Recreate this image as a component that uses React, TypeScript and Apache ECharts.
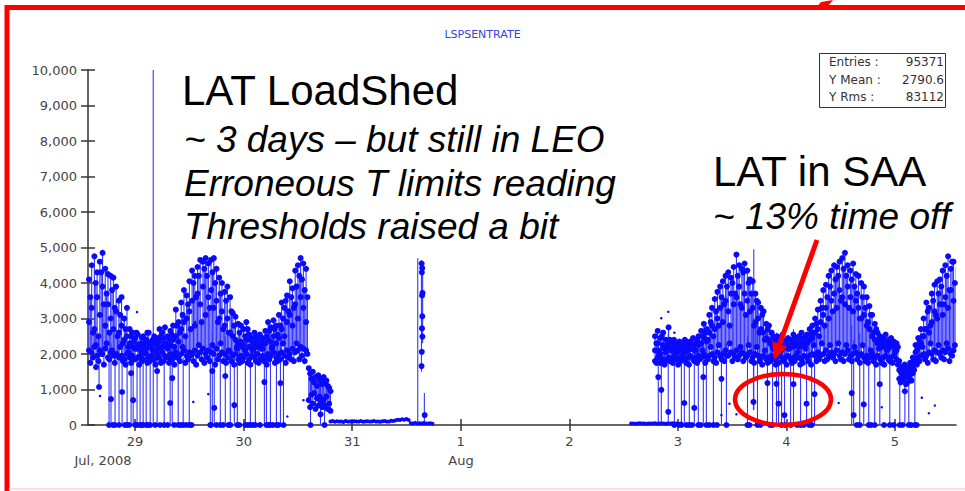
import React, { useEffect, useRef } from 'react';
import * as echarts from 'echarts';

// Time axis: days since Jul 28 2008 00:00
const X_MIN = 0.566;
const X_MAX = 8.563;
const dayTicks = [1, 2, 3, 4, 5, 6, 7, 8];
const dayLabels = ['29', '30', '31', '1', '2', '3', '4', '5'];
const Y_MAX = 10000;
const Y_STEP = 1000;

// Regular telemetry cadence (days) for the two in-orbit stretches;
// the low / spread readings fall half a step after each sample.
const STEP = 0.025;

// Jul 28 13:48 – Jul 30 14:00
const runAStart = 0.575;
const runABase = [2100, 2050, 2200, 1950, 2100, 2000, 2150, 1900, 2050, 1950, 2000, 1900, 1950, 1850, 2000, 1900, 1950, 1850, 1900, 1950, 1850, 2000, 1900, 1950, 1850, 2000, 1900, 2050, 1950, 1900, 2000, 1950, 2050, 1900, 2000, 2100, 1950, 2050, 2000, 2100, 1950, 2050, 2150, 2000, 2100, 2050, 2000, 2150, 1950, 2050, 2000, 1900, 2050, 1950, 2000, 1850, 1950, 1900, 2000, 1850, 1950, 1900, 2000, 1850, 1950, 1900, 2000, 1950, 2050, 1900, 2000, 2050, 1950, 2100, 2000, 2150, 2050, 2100, 2200, 2150, 2100];
const runAMid = [2900, 3300, 2700, 3600, 3100, 3900, 2800, 3400, 3000, 2700, 3200, 2600, 2800, 2400, 2500, 2300, 2200, 2150, 2250, 2100, 2200, 2150, 2300, 2200, 2100, 2250, 2350, 2200, 2300, 2150, 2250, 2400, 2500, 2350, 2700, 2900, 3000, 3200, 3500, 2800, 3700, 3400, 3900, 3100, 3600, 3800, 3300, 3500, 3000, 3200, 2800, 3000, 2600, 2500, 2400, 2300, 2350, 2250, 2400, 2200, 2150, 2300, 2200, 2250, 2150, 2300, 2400, 2350, 2500, 2300, 2450, 2700, 2500, 2900, 3100, 2800, 3400, 3000, 3600, 3300, 2900];
const runATop = [4100, 4500, 4750, 4300, 4600, 4850, 4400, 4250, 4200, 4150, 3900, 3500, 3600, 3000, 3300, 2700, 2600, 2450, 2550, 2300, 2500, 2400, 2600, 2350, 2500, 2450, 2700, 2600, 2750, 2500, 2650, 2800, 3250, 2900, 3450, 3800, 3650, 4050, 4350, 4200, 4450, 4650, 4600, 4700, 4550, 4650, 4700, 4400, 4150, 4000, 3750, 3900, 3600, 3150, 3050, 2850, 2800, 2700, 2900, 2550, 2450, 2600, 2400, 2550, 2450, 2650, 2900, 2750, 2950, 2800, 3100, 3450, 3300, 3650, 4050, 3850, 4350, 4500, 4700, 4550, 4400];
const runALow = [1750, 1900, 2250, 1800, 2000, 1700, 2300, 1850, 2100, 1750, 1950, 2200, 1800, 1700, 2050, 1750, 1850, 2150, 1700, 1800, 2050, 1750, 1800, 2100, 1700, 1900, 1750, 1800, 2200, 1750, 1850, 1700, 1900, 1800, 2200, 1750, 1850, 1950, 1800, 1700, 2250, 1850, 1750, 1900, 1800, 2250, 1700, 1850, 2300, 1800, 1750, 2100, 1800, 1700, 2150, 1750, 1800, 2100, 1750, 1700, 2100, 1800, 1750, 2150, 1800, 1700, 1850, 2150, 1750, 1800, 1850, 2300, 1750, 1900, 1850, 1800, 2300, 1850, 1950, 1800, 2000];
const runASpread = [3600, 2600, 4000, 2500, 4300, 3400, 3700, 2600, 3800, 3300, 2500, 3100, 2300, 2700, 2200, 2500, 2350, 2600, 2150, 2450, 2300, 2600, 2200, 2400, 2300, 2150, 2500, 2450, 2250, 2400, 2550, 2200, 2800, 2600, 3100, 2500, 3400, 2700, 4000, 3600, 4200, 2900, 4400, 4200, 3300, 4300, 4000, 2900, 3700, 2700, 3500, 2600, 3200, 2800, 2200, 2600, 2200, 2500, 2700, 2400, 2300, 2500, 2250, 2400, 2300, 2500, 2650, 2200, 2700, 2550, 2800, 3000, 3500, 3200, 3600, 3300, 3900, 4200, 4100, 3800, 3600];

// Aug 2 18:58 – Aug 5 13:34
const runFStart = 5.79;
const runFBase = [1800, 1900, 1750, 1850, 1800, 1900, 1850, 1950, 1850, 1900, 1950, 1850, 1900, 1950, 1850, 1900, 1950, 1900, 2000, 1900, 1950, 2000, 1900, 2050, 1950, 2000, 2100, 1950, 2050, 2000, 2100, 1950, 2050, 2000, 1950, 2050, 1900, 2000, 1950, 1900, 1950, 1850, 1900, 1950, 1850, 1900, 1950, 1850, 1900, 1950, 1850, 1900, 1950, 1900, 1850, 1950, 1900, 1950, 2000, 1950, 2050, 1950, 2000, 2100, 1950, 2050, 2000, 2100, 1950, 2050, 2000, 2100, 1950, 2000, 2050, 1950, 2000, 1900, 1950, 1900, 2000, 1900, 1950, 1850, 1900, 1950, 1850, 1900, 1950, 1850, 1300, 1250, 1350, 1200, 1300, 1450, 1850, 1900, 1950, 2000, 1950, 2050, 2000, 2100, 2050, 2000, 2100, 2050, 2150, 2000, 2100, 2050];
const runFMid = [2100, 2300, 2000, 2250, 2050, 2200, 2100, 2150, 2050, 2100, 2150, 2050, 2100, 2150, 2200, 2100, 2250, 2300, 2450, 2350, 2600, 2800, 2700, 3000, 3300, 2900, 3500, 3200, 3700, 3400, 3600, 3900, 3300, 3700, 3500, 3200, 3300, 2900, 3000, 2700, 2600, 2450, 2400, 2250, 2200, 2300, 2150, 2250, 2200, 2150, 2250, 2200, 2300, 2200, 2250, 2200, 2300, 2400, 2450, 2600, 2700, 2900, 3100, 3300, 3000, 3500, 3700, 3300, 3800, 3600, 3400, 3900, 3600, 3200, 3500, 3300, 3000, 3100, 2800, 2700, 2500, 2400, 2300, 2250, 2200, 2300, 2150, 2250, 2200, 2100, 1550, 1450, 1500, 1400, 1500, 1650, 2050, 2200, 2300, 2500, 2700, 2600, 2900, 3200, 3000, 3400, 3100, 3600, 3300, 3800, 3500, 3700];
const runFTop = [2500, 2650, 2450, 2600, 2400, 2750, 2350, 2400, 2250, 2350, 2300, 2400, 2250, 2350, 2450, 2300, 2500, 2650, 2850, 2700, 3100, 3300, 3550, 3750, 3900, 4050, 4200, 4300, 4150, 4450, 4800, 4500, 4400, 4550, 4350, 4100, 4050, 3700, 3450, 3300, 3200, 2850, 2800, 2600, 2450, 2500, 2400, 2550, 2350, 2450, 2400, 2550, 2450, 2500, 2600, 2450, 2550, 2700, 2800, 3000, 3250, 3500, 3800, 3950, 4200, 4350, 4500, 4450, 4600, 4700, 4850, 4500, 4350, 4550, 4250, 4200, 4000, 3900, 3600, 3350, 3100, 2850, 2600, 2500, 2450, 2550, 2400, 2450, 2350, 2300, 1800, 1650, 1700, 1600, 1750, 1900, 2250, 2450, 2700, 3000, 3450, 3300, 3700, 3950, 4050, 4100, 4350, 4500, 4750, 4400, 4600, 4450];
const runFLow = [1750, 2000, 1850, 1700, 2200, 1800, 1750, 2100, 1700, 1800, 2050, 1750, 1700, 2150, 1800, 1750, 1850, 2100, 1750, 1850, 2200, 1800, 1750, 2250, 1850, 1800, 1950, 2300, 1800, 1900, 1850, 2200, 1800, 1900, 2250, 1800, 1750, 2200, 1800, 1700, 2100, 1750, 1800, 2150, 1700, 1750, 2100, 1800, 1700, 2150, 1750, 1800, 2050, 1700, 1750, 2150, 1800, 1700, 2250, 1800, 1850, 2300, 1800, 1850, 2250, 1900, 1800, 2300, 1850, 1800, 2250, 1850, 1800, 2200, 1850, 1750, 2250, 1800, 1750, 2100, 1800, 1700, 2150, 1750, 1700, 2100, 1800, 1750, 2050, 1700, 1200, 1350, 1150, 1400, 1250, 1550, 1700, 1800, 2200, 1850, 1750, 2300, 1850, 1800, 2250, 1900, 1850, 2300, 1800, 1950, 2250, 1850];
const runFSpread = [2300, 2100, 2500, 2150, 2250, 2400, 2200, 2300, 2150, 2250, 2200, 2350, 2150, 2250, 2100, 2400, 2300, 2500, 2600, 2400, 2900, 2500, 3200, 2800, 3600, 3400, 3900, 2800, 4000, 3700, 4200, 3400, 4300, 3100, 4000, 3700, 2800, 3500, 2600, 3100, 2400, 2700, 2300, 2500, 2350, 2200, 2450, 2300, 2400, 2250, 2350, 2450, 2250, 2400, 2300, 2500, 2350, 2550, 2600, 2850, 2500, 3300, 2800, 3600, 3900, 3200, 4100, 4200, 3500, 4400, 4200, 3300, 4100, 3900, 3700, 3000, 3600, 3300, 2900, 3100, 2600, 2700, 2400, 2300, 2350, 2200, 2300, 2250, 2150, 2200, 1500, 1550, 1400, 1650, 1450, 1800, 2100, 2350, 2500, 2700, 3200, 2800, 3500, 3100, 3700, 3900, 3400, 4200, 3800, 4600, 4000, 4200];

// Jul 30 14:24 – 19:12, reduced rate after the load shed (upper / lower readings)
const shedStart = 2.6;
const shedStep = 0.0125;
const shedUpper = [1600, 1450, 1300, 1500, 1200, 1350, 1100, 1400, 1250, 1300, 1150, 1350, 1200, 1250, 1100, 1050, 950];
const shedLower = [700, 500, 850, 600, 900, 450, 750, 550, 800, 650, 500, 700, 550, 800, 450, 600, 400];

// Near-zero rate while the LAT is off
const offStep = 0.02;
const offAStart = 2.8;
const offA = [100, 110, 90, 105, 95, 100, 85, 110, 95, 100, 90, 105, 100, 95, 110, 90, 100, 105, 95, 100, 110, 95, 100, 90, 105, 110, 95, 100, 120, 110, 130, 150, 140, 160, 150, 170, 140];
const offBStart = 3.54;
const offB = [50, 40, 60, 45, 50, 40, 55, 45, 40, 50, 35];
const offCStart = 5.57;
const offC = [40, 45, 35, 40, 50, 40, 45, 35, 40, 45, 40, 50, 35, 40, 45, 40, 35, 45, 40, 50, 40, 45, 35, 40];

// Brief turn-on at Jul 31 15:25
const burstPoints = [[3.64, 4550], [3.645, 4420], [3.642, 4300], [3.648, 3720], [3.644, 3650], [3.646, 3060], [3.643, 2720], [3.647, 2490], [3.641, 2060], [3.639, 1660], [3.668, 280]];
const burstBars = [[3.638, 1500, 4650], [3.649, 2300, 4500], [3.665, 0, 900]];

// Dropouts: [day, value, low, high]
const dropouts = [
  [0.64, 1630, 1630, 2600], [0.668, 1070, 1070, 2400],
  [0.76, 0, 0, 2100], [0.778, 730, 0, 2300], [0.815, 0, 0, 2000], [0.852, 0, 0, 2400], [0.88, 930, 0, 2000],
  [0.926, 0, 0, 1900], [0.963, 1460, 0, 2300], [0.982, 700, 0, 1800], [1.018, 0, 0, 2000], [1.046, 0, 0, 2300],
  [1.074, 0, 0, 1900], [1.102, 0, 0, 2100], [1.139, 0, 0, 1800], [1.203, 1520, 0, 2200], [1.268, 0, 0, 2000],
  [1.323, 620, 0, 1900], [1.342, 1320, 0, 2200], [1.397, 0, 0, 2000], [1.443, 0, 0, 1900], [1.499, 0, 0, 2100],
  [1.693, 0, 0, 2300], [1.711, 1520, 0, 2600], [1.729, 480, 0, 1900], [1.785, 0, 0, 2000], [1.831, 1380, 0, 2500],
  [1.877, 0, 0, 1900], [1.914, 560, 0, 2000], [1.942, 0, 0, 2100], [2.016, 0, 0, 1800], [2.062, 0, 0, 2000],
  [2.108, 0, 0, 1900], [2.191, 1210, 0, 2200], [2.21, 0, 0, 1900], [2.247, 0, 0, 2000], [2.302, 0, 0, 2100],
  [2.339, 1180, 0, 2300], [2.367, 0, 0, 1900],
  [2.616, 0, 0, 1300], [2.708, 300, 0, 1200], [2.745, 0, 0, 900],
  [5.82, 1350, 0, 2500], [5.848, 990, 0, 2300], [5.912, 370, 0, 2600], [5.968, 0, 0, 2100], [6.033, 0, 0, 2200],
  [6.06, 620, 0, 2000], [6.106, 0, 0, 2300], [6.152, 480, 0, 2100], [6.189, 0, 0, 2000], [6.235, 1350, 0, 2400],
  [6.263, 0, 0, 2200], [6.328, 0, 0, 2000], [6.402, 1300, 0, 2600], [6.448, 0, 0, 2300], [6.642, 0, 0, 2500],
  [6.697, 650, 420, 3000], [6.734, 0, 0, 3500], [6.826, 1180, 0, 2800], [6.873, 0, 0, 2400], [6.909, 1160, 0, 2600],
  [6.928, 600, 0, 2200], [6.956, 0, 0, 2500], [6.983, 280, 0, 2300], [7.039, 0, 0, 2400], [7.066, 1150, 0, 2700],
  [7.131, 0, 0, 2200], [7.186, 600, 0, 2500], [7.233, 0, 0, 2300], [7.26, 870, 0, 2600], [7.602, 900, 0, 2800],
  [7.62, 280, 0, 2400], [7.676, 0, 0, 2600], [7.713, 580, 0, 2300], [7.759, 0, 0, 2200], [7.814, 0, 0, 2400],
  [7.861, 1150, 0, 2300], [7.953, 0, 0, 2000], [8.045, 0, 0, 1700], [8.092, 950, 0, 1600], [8.128, 0, 0, 1800],
  [8.184, 0, 0, 2000],
];

// Single-sample spikes: [day, low, high]
const spikes = [[1.167, 0, 10000], [3.604, 0, 4700], [6.7, 420, 4950]];

// Zero readings
const zeroHits = [0.795, 0.905, 0.945, 1.0, 1.06, 1.12, 1.185, 1.23, 1.3, 1.36, 1.42, 1.47, 1.52, 1.7, 1.75, 1.81, 1.86, 1.96, 2.04, 2.085, 2.15, 2.23, 2.27, 2.32, 6.01, 6.08, 6.13, 6.21, 6.29, 6.36, 6.66, 6.76, 6.85, 6.99, 7.1, 7.16, 7.21, 7.65, 7.78, 7.9, 7.99, 8.07, 8.15, 8.2];

// Isolated single readings
const strays = [[0.677, 820], [0.898, 2950], [1.018, 3180], [1.536, 650], [1.554, 2900], [1.674, 870], [2.403, 240], [2.551, 700], [5.848, 3010], [5.912, 3190], [5.968, 2600], [6.402, 280], [6.476, 600], [6.54, 300], [7.482, 620], [7.879, 500], [8.248, 770], [8.313, 330], [8.368, 550]];

const statsLabels = ['Entries :', 'Y Mean :', 'Y Rms :'];
const statsValues = ['95371', '2790.6', '83112'];

const DOT = '#0a0aff';
const BAR = '#3535ff';

function buildOption() {
  const bigDots: number[][] = [];
  const bars: number[][] = [];
  const smallDots: number[][] = [];
  const flatDots: number[][] = [];

  const addRun = (start: number, base: number[], mid: number[], top: number[], low: number[], spread: number[]) => {
    base.forEach((b, i) => {
      const t = start + i * STEP;
      const th = t + STEP / 2;
      bars.push([t, b, top[i]]);
      bars.push([th, low[i], spread[i]]);
      bigDots.push([t, b], [t, mid[i]], [t, top[i]], [th, low[i]], [th, spread[i]]);
    });
  };
  addRun(runAStart, runABase, runAMid, runATop, runALow, runASpread);
  addRun(runFStart, runFBase, runFMid, runFTop, runFLow, runFSpread);

  shedUpper.forEach((u, i) => {
    const t = shedStart + i * shedStep;
    bars.push([t, shedLower[i], u]);
    bigDots.push([t, u], [t, shedLower[i]]);
  });

  const addFlat = (start: number, vals: number[]) => {
    vals.forEach((v, i) => flatDots.push([start + i * offStep, v]));
  };
  addFlat(offAStart, offA);
  addFlat(offBStart, offB);
  addFlat(offCStart, offC);

  burstPoints.forEach((p) => bigDots.push(p));
  burstBars.forEach((b) => bars.push(b));
  dropouts.forEach(([t, v, lo, hi]) => {
    bars.push([t, lo, hi]);
    bigDots.push([t, v]);
  });
  spikes.forEach((s) => bars.push(s));
  zeroHits.forEach((t) => bigDots.push([t, 0]));
  strays.forEach((p) => smallDots.push(p));

  const axisText = { color: '#444', fontSize: 13, fontFamily: 'DejaVu Sans' };
  const axisLine = { lineStyle: { color: '#333', width: 1.5 } };

  const ann = (text: string, x: number, y: number, size: number, italic: boolean) => ({
    type: 'text',
    x,
    y,
    z: 100,
    style: {
      text,
      fill: '#000',
      font: `${italic ? 'italic ' : ''}${size}px "Liberation Sans", Arial, sans-serif`,
      align: 'left',
      verticalAlign: 'middle',
    },
  });

  // arrow from the SAA note to the circled dropouts
  const tail = [817, 240];
  const tip = [774, 360];
  const dx = tip[0] - tail[0];
  const dy = tip[1] - tail[1];
  const len = Math.hypot(dx, dy);
  const ux = dx / len;
  const uy = dy / len;
  const headLen = 17;
  const headHalf = 8;
  const bx = tip[0] - ux * headLen;
  const by = tip[1] - uy * headLen;

  const dotStyle = { color: DOT, opacity: 1 };

  return {
    animation: false,
    backgroundColor: '#fff',
    title: {
      text: 'LSPSENTRATE',
      left: 'center',
      top: 24,
      textStyle: { color: '#3344dd', fontSize: 11, fontWeight: 'normal', fontFamily: 'DejaVu Sans' },
    },
    grid: { left: 88, right: 9, top: 70, bottom: 66 },
    xAxis: [
      {
        type: 'value',
        min: X_MIN,
        max: X_MAX,
        axisLine: { ...axisLine, onZero: false },
        splitLine: { show: false },
        axisTick: { customValues: dayTicks, length: 6, lineStyle: { color: '#333', width: 1.5 } },
        axisLabel: {
          ...axisText,
          customValues: dayTicks,
          margin: 10,
          formatter: (v: number) => dayLabels[dayTicks.indexOf(Math.round(v))] ?? '',
        },
      },
      {
        type: 'value',
        position: 'bottom',
        min: X_MIN,
        max: X_MAX,
        axisLine: { show: false },
        splitLine: { show: false },
        axisTick: { inside: true, customValues: dayTicks, length: 6, lineStyle: { color: '#333', width: 1.5 } },
        axisLabel: { show: false },
      },
    ],
    yAxis: [
      {
        type: 'value',
        min: 0,
        max: Y_MAX,
        interval: Y_STEP,
        axisLine: { show: true, ...axisLine },
        splitLine: { show: false },
        axisTick: { show: true, length: 7, lineStyle: { color: '#333', width: 1.5 } },
        axisLabel: { ...axisText, margin: 11, formatter: (v: number) => v.toLocaleString('en-US') },
      },
      {
        type: 'value',
        position: 'left',
        min: 0,
        max: Y_MAX,
        interval: Y_STEP,
        axisLine: { show: false },
        splitLine: { show: false },
        axisTick: { show: true, inside: true, length: 7, lineStyle: { color: '#333', width: 1.5 } },
        axisLabel: { show: false },
      },
    ],
    series: [
      {
        type: 'custom',
        clip: true,
        data: bars,
        encode: { x: 0, y: [1, 2] },
        renderItem: (_p: any, api: any) => {
          const a = api.coord([api.value(0), api.value(1)]);
          const b = api.coord([api.value(0), api.value(2)]);
          return {
            type: 'line',
            shape: { x1: a[0], y1: a[1], x2: b[0], y2: b[1] },
            style: { stroke: BAR, lineWidth: 1.1 },
          };
        },
      },
      { type: 'scatter', data: flatDots, symbolSize: 4, itemStyle: dotStyle, silent: true },
      { type: 'scatter', data: bigDots, symbolSize: 6, itemStyle: dotStyle, silent: true },
      { type: 'scatter', data: smallDots, symbolSize: 2.5, itemStyle: dotStyle, silent: true },
    ],
    graphic: [
      // slide frame
      { type: 'line', shape: { x1: 7, y1: 7.5, x2: 965, y2: 7.5 }, style: { stroke: '#ff0000', lineWidth: 5 } },
      { type: 'line', shape: { x1: 7, y1: 5, x2: 7, y2: 491 }, style: { stroke: '#ff0000', lineWidth: 5 } },
      { type: 'line', shape: { x1: 9, y1: 489, x2: 965, y2: 489 }, style: { stroke: '#ffdede', lineWidth: 2 } },
      { type: 'polygon', shape: { points: [[814, 10], [821, 2], [833, 0], [827, 7]] }, style: { fill: '#ff0000' } },
      // statistics box
      { type: 'rect', shape: { x: 819.5, y: 53.5, width: 126, height: 54 }, style: { fill: '#fff', stroke: '#333', lineWidth: 1 }, z: 90 },
      ...statsLabels.map((t, i) => ({
        type: 'text', x: 829, y: 62 + i * 17.5, z: 91,
        style: { text: t, fill: '#333', font: '12px "DejaVu Sans"', align: 'left', verticalAlign: 'middle' },
      })),
      ...statsValues.map((t, i) => ({
        type: 'text', x: 944, y: 62 + i * 17.5, z: 91,
        style: { text: t, fill: '#333', font: '12px "DejaVu Sans"', align: 'right', verticalAlign: 'middle' },
      })),
      // month labels under the day ticks
      { type: 'text', x: 103, y: 460, style: { text: 'Jul, 2008', fill: '#444', font: '13px "DejaVu Sans"', align: 'center', verticalAlign: 'middle' } },
      { type: 'text', x: 461, y: 460, style: { text: 'Aug', fill: '#444', font: '13px "DejaVu Sans"', align: 'center', verticalAlign: 'middle' } },
      // annotations
      ann('LAT LoadShed', 182, 90, 42, false),
      ann('~ 3 days \u2013 but still in LEO', 184, 139, 37, true),
      ann('Erroneous T limits reading', 184, 183, 37, true),
      ann('Thresholds raised a bit', 184, 226, 37, true),
      ann('LAT in SAA', 713, 171, 42, false),
      ann('~ 13% time off', 713, 216, 37, true),
      { type: 'ellipse', z: 100, shape: { cx: 783, cy: 399.5, rx: 48, ry: 25.5 }, style: { fill: 'none', stroke: '#ff0000', lineWidth: 4.5 } },
      { type: 'line', z: 100, shape: { x1: tail[0], y1: tail[1], x2: bx, y2: by }, style: { stroke: '#ff0000', lineWidth: 5 } },
      {
        type: 'polygon', z: 100,
        shape: { points: [[tip[0], tip[1]], [bx - uy * headHalf, by + ux * headHalf], [bx + uy * headHalf, by - ux * headHalf]] },
        style: { fill: '#ff0000' },
      },
    ],
  };
}

export default function App() {
  const ref = useRef<HTMLDivElement>(null);
  useEffect(() => {
    if (!ref.current) return;
    const chart = echarts.init(ref.current, undefined, { renderer: 'svg' });
    chart.setOption(buildOption() as any);
    return () => chart.dispose();
  }, []);
  return (
    <div
      ref={ref}
      style={{ position: 'fixed', left: 0, top: 0, width: 965, height: 491, background: '#fff' }}
    />
  );
}
